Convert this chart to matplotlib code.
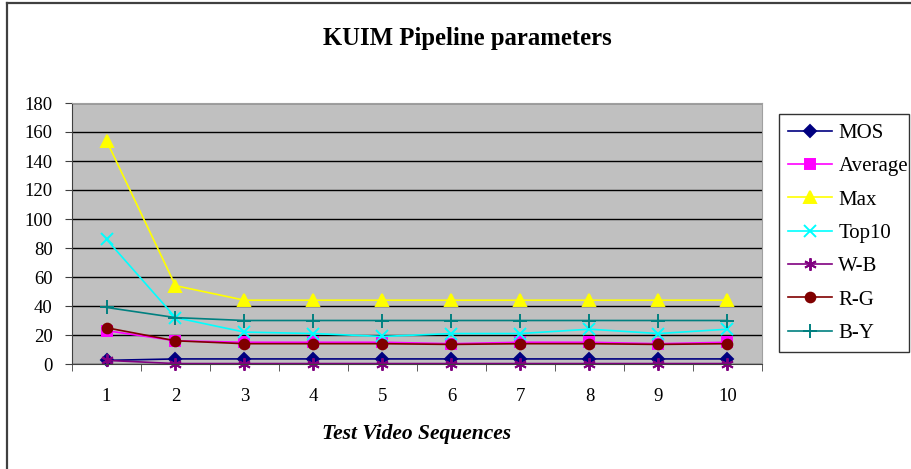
import matplotlib.pyplot as plt
import numpy as np
from matplotlib.lines import Line2D

plt.rcParams['font.family'] = ['Liberation Serif', 'DejaVu Serif']

sequences = [1, 2, 3, 4, 5, 6, 7, 8, 9, 10]
mos = [2.5, 3.5, 3.5, 3.5, 3.5, 3.5, 3.5, 3.5, 3.5, 3.5]
average = [23, 16, 15, 15, 15, 14, 15, 15, 14, 15]
max_vals = [154, 54, 44, 44, 44, 44, 44, 44, 44, 44]
top10 = [86, 32, 22, 21, 19, 21, 21, 24, 21, 24]
w_b = [2.5, 0.3, 0.3, 0.3, 0.3, 0.3, 0.3, 0.3, 0.3, 0.3]
r_g = [25, 16, 14, 14, 14, 13.5, 14, 14, 13.5, 14]
b_y = [39, 32, 30, 30, 30, 30, 30, 30, 30, 30]

series = [
    ("MOS", mos, "#000080", "D", 6),
    ("Average", average, "#FF00FF", "s", 7),
    ("Max", max_vals, "#FFFF00", "^", 9),
    ("Top10", top10, "#00FFFF", "x", 8),
    ("W-B", w_b, "#800080", (6, 2, 0), 9),
    ("R-G", r_g, "#800000", "o", 7),
    ("B-Y", b_y, "#008080", "+", 10),
]

W, H = 911, 469
fig = plt.figure(figsize=(W / 100, H / 100), dpi=100)

# frame: only the left and top edges show
fig.add_artist(Line2D([7 / W, 7 / W], [0, 1 - 3 / H], transform=fig.transFigure,
                      color='#404040', linewidth=1.6))
fig.add_artist(Line2D([7 / W, 1], [1 - 3 / H, 1 - 3 / H], transform=fig.transFigure,
                      color='#404040', linewidth=1.6))

ax = fig.add_axes([72 / W, 1 - 364 / H, 690 / W, 261 / H])
ax.set_facecolor('#C0C0C0')

x = np.array(sequences)
for name, vals, col, mk, ms in series:
    ax.plot(x, vals, color=col, marker=mk, markersize=ms, linewidth=1.2,
            markeredgewidth=1.4, label=name, clip_on=False)

ax.set_xlim(0.5, 10.5)
ax.set_ylim(0, 180)
ax.set_yticks(np.arange(0, 181, 20))
ax.yaxis.grid(True, color='black', linewidth=1)
ax.set_axisbelow(True)

ax.set_xticks(x)
ax.set_xticks(np.arange(0.5, 10.6, 1), minor=True)
ax.tick_params(axis='x', which='major', length=0, labelsize=13.5, pad=17)
ax.tick_params(axis='x', which='minor', length=5, color='#404040')
ax.tick_params(axis='y', length=5, labelsize=13.5, color='#404040', pad=9)

for side in ('top', 'right'):
    ax.spines[side].set_color('#A0A0A0')
for side in ('left', 'bottom'):
    ax.spines[side].set_color('#404040')

ax.set_xlabel('Test Video Sequences', fontsize=15.5, fontweight='bold', style='italic', labelpad=14)
fig.text(467 / W, 1 - 38 / H, 'KUIM Pipeline parameters', ha='center', va='center',
         fontsize=17.8, fontweight='bold')

leg = ax.legend(loc='upper left', bbox_to_anchor=(779 / W, 1 - 351 / H, 130 / W, 237 / H),
                bbox_transform=fig.transFigure, mode='expand',
                fancybox=False, edgecolor='black', fontsize=15, labelspacing=0.66,
                handlelength=2.1, handletextpad=0.3, borderpad=0.45, borderaxespad=0)
leg.get_frame().set_linewidth(1)

fig.savefig('out.png', dpi=100)
